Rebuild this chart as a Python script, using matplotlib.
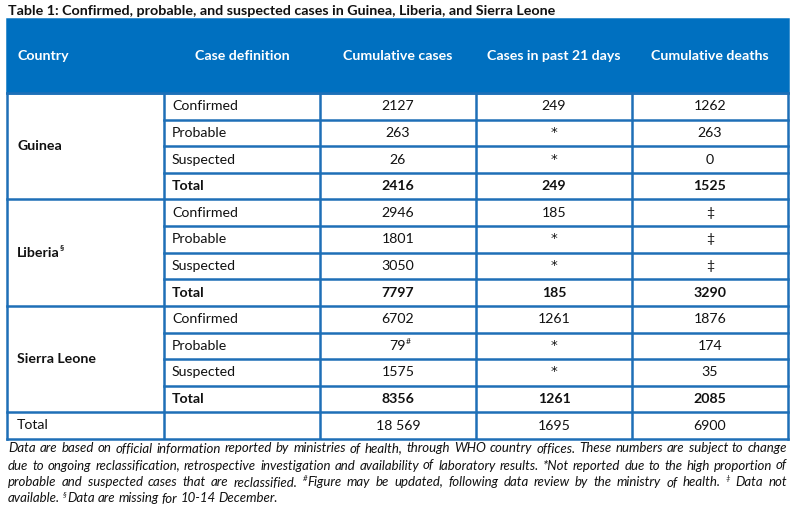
import matplotlib
matplotlib.use("Agg")
import matplotlib.pyplot as plt
from matplotlib.patches import Rectangle

plt.rcParams['font.family'] = ['Lato', 'DejaVu Sans']

title = "Table 1: Confirmed, probable, and suspected cases in Guinea, Liberia, and Sierra Leone"
headers = ["Country", "Case definition", "Cumulative cases", "Cases in past 21 days", "Cumulative deaths"]
countries = ["Guinea", "Liberia", "Sierra Leone"]
country_sup = ["", "§", ""]
case_defs = ["Confirmed", "Probable", "Suspected", "Total"]
cumulative = [["2127", "263", "26", "2416"],
              ["2946", "1801", "3050", "7797"],
              ["6702", "79", "1575", "8356"]]
cumulative_sup = [["", "", "", ""], ["", "", "", ""], ["", "#", "", ""]]
past21 = [["249", "*", "*", "249"],
          ["185", "*", "*", "185"],
          ["1261", "*", "*", "1261"]]
deaths = [["1262", "263", "0", "1525"],
          ["‡", "‡", "‡", "3290"],
          ["1876", "174", "35", "2085"]]
grand_total = ["18 569", "1695", "6900"]

foot_lines = [
    [("Data are based on official information reported by ministries of health, through WHO country offices. These numbers are subject to change", False)],
    [("due to ongoing reclassification, retrospective investigation and availability of laboratory results. *Not reported due to the high proportion of", False)],
    [("probable and suspected cases that are reclassified. ", False), ("#", True),
     ("Figure may be updated, following data review by the ministry of health. ", False), ("‡", True), (" Data not", False)],
    [("available. ", False), ("§", True), ("Data are missing for 10-14 December.", False)],
]
foot_justify = [True, True, True, False]

W, H = 807, 513
fig = plt.figure(figsize=(W / 100, H / 100), dpi=100)
ax = fig.add_axes([0, 0, 1, 1])
ax.set_xlim(0, W)
ax.set_ylim(H, 0)
ax.axis('off')
fig.canvas.draw()
renderer = fig.canvas.get_renderer()

BLUE = "#0070C0"
LINE = "#1E6FB7"
TXT = "#111111"
lw = 1.8
BFS = 10.2   # body font size
HFS = 10.2   # header font size

col_x = [7, 164, 320, 476, 632, 788]
head_top, head_bot = 19, 93
nrows = 13
row_h = (439 - head_bot) / nrows
row_y = [head_bot + i * row_h for i in range(nrows + 1)]

# title
ax.text(8, 11, title, fontsize=10.3, fontweight='bold', color=TXT, va='center', ha='left')

# header
ax.add_patch(Rectangle((col_x[0], head_top), col_x[-1] - col_x[0], head_bot - head_top,
                       facecolor=BLUE, edgecolor=BLUE, lw=lw))
hy = (head_top + head_bot) / 2
for j, h in enumerate(headers):
    if j == 0:
        ax.text(17, hy, h, color='white', fontsize=HFS, fontweight='bold', ha='left', va='center')
    else:
        ax.text((col_x[j] + col_x[j + 1]) / 2, hy, h, color='white', fontsize=HFS,
                fontweight='bold', ha='center', va='center')


def text_with_sup(x, y, s, sup, ha='center', fs=BFS, weight='normal'):
    if s == "*":
        ax.text(x, y - 0.5, s, fontsize=fs * 0.95, fontweight=weight, color=TXT, ha=ha,
                va='center', family=['DejaVu Sans'])
        return
    t = ax.text(x, y, s, fontsize=fs, fontweight=weight, color=TXT, ha=ha, va='center')
    if sup:
        bb = t.get_window_extent(renderer)
        ax.text(bb.x1 - 0.5, y - fs * 0.45, sup, fontsize=fs * 0.6, fontweight=weight,
                color=TXT, ha='left', va='center')


# body
for g, c in enumerate(countries):
    r0 = g * 4
    yc = (row_y[r0] + row_y[r0 + 4]) / 2
    text_with_sup(17, yc, c, country_sup[g], ha='left', fs=BFS, weight='bold')
    for k, cd in enumerate(case_defs):
        r = r0 + k
        y = (row_y[r] + row_y[r + 1]) / 2
        wt = 'bold' if cd == "Total" else 'normal'
        ax.text(172, y, cd, fontsize=BFS, fontweight=wt, color=TXT, ha='left', va='center')
        vals = [(cumulative[g][k], cumulative_sup[g][k]), (past21[g][k], ""), (deaths[g][k], "")]
        for j, (v, sp) in enumerate(vals):
            cx = (col_x[j + 2] + col_x[j + 3]) / 2
            text_with_sup(cx, y, v, sp, fs=BFS, weight=wt)

# grand total row
y = (row_y[12] + row_y[13]) / 2
ax.text(17, y - 1, "Total", fontsize=BFS, color=TXT, ha='left', va='center')
for j, v in enumerate(grand_total):
    cx = (col_x[j + 2] + col_x[j + 3]) / 2
    ax.text(cx, y, v, fontsize=BFS, color=TXT, ha='center', va='center')

# grid lines
ax.plot([col_x[0], col_x[0]], [head_bot, row_y[-1]], color=LINE, lw=lw, solid_capstyle='projecting')
ax.plot([col_x[-1], col_x[-1]], [head_bot, row_y[-1]], color=LINE, lw=lw, solid_capstyle='projecting')
for cx in col_x[1:-1]:
    ax.plot([cx, cx], [head_bot, row_y[-1]], color=LINE, lw=lw, solid_capstyle='butt')
for i, ry in enumerate(row_y):
    if i % 4 == 0 or i == nrows:
        x0 = col_x[0]
    else:
        x0 = col_x[1]
    ax.plot([x0, col_x[-1]], [ry, ry], color=LINE, lw=lw, solid_capstyle='projecting')


# footnotes
def measure(s, fs, sup):
    t = ax.text(0, 0, s, fontsize=fs * (0.6 if sup else 1), style='italic')
    w = t.get_window_extent(renderer).width
    t.remove()
    return w


def split_words(runs):
    words, cur = [], []
    for txt, sup in runs:
        buf = ""
        for ch in txt:
            if ch == " ":
                if buf:
                    cur.append((buf, sup))
                    buf = ""
                if cur:
                    words.append(cur)
                    cur = []
            else:
                buf += ch
        if buf:
            cur.append((buf, sup))
    if cur:
        words.append(cur)
    return words


left, right = 8, 787
all_words = [split_words(r) for r in foot_lines]

# choose the largest font size whose natural lines fit the width
FS = 11.0
while FS > 6:
    sw = measure("a a", FS, False) - measure("aa", FS, False)
    ok = True
    for words in all_words:
        nat = sum(sum(measure(s, FS, sp) for s, sp in w) for w in words) + sw * (len(words) - 1)
        if nat > (right - left) - 6:
            ok = False
            break
    if ok:
        break
    FS -= 0.1

space_w = measure("a a", FS, False) - measure("aa", FS, False)
foot_y = [449, 466, 483, 499]
for li, words in enumerate(all_words):
    widths = [sum(measure(s, FS, sp) for s, sp in w) for w in words]
    if foot_justify[li] and len(words) > 1:
        gap = (right - left - sum(widths)) / (len(words) - 1)
    else:
        gap = space_w
    x = left
    yb = foot_y[li] + 3.5
    for w, ww in zip(words, widths):
        xx = x
        for s, sp in w:
            if sp:
                ax.text(xx, yb - FS * 0.55, s, fontsize=FS * 0.6, style='italic', color=TXT,
                        ha='left', va='baseline')
            else:
                ax.text(xx, yb, s, fontsize=FS, style='italic', color=TXT, ha='left', va='baseline')
            xx += measure(s, FS, sp)
        x += ww + gap

fig.savefig("out.png", dpi=100)
